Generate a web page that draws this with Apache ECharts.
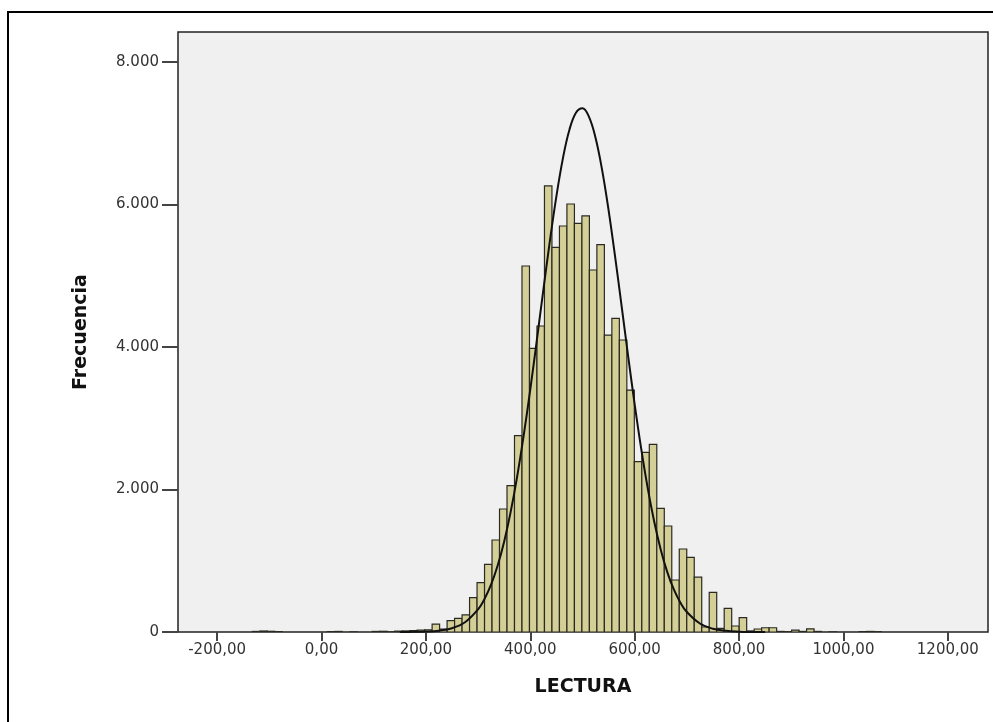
<!DOCTYPE html>
<html>
<head>
<meta charset="utf-8">
<script src="https://cdn.jsdelivr.net/npm/echarts@6/dist/echarts.min.js"></script>
<style>
html,body{margin:0;padding:0;background:#fff;}
#chart{width:993px;height:722px;}
</style>
</head>
<body>
<div id="chart"></div>
<script>
// Histogram bins: first bin left edge and bin width (in LECTURA units)
const binFirst = -189.9;
const binWidth = 14.35;
// Frequencies of consecutive bins starting at binFirst
const counts = [
  0, 0, 0, 0, 8, 14, 10, 6, 0, 0,
  0, 0, 0, 0, 6, 8, 0, 3, 0, 0,
  8, 10, 4, 12, 15, 18, 25, 30, 110, 40,
  159, 192, 239, 482, 692, 950, 1291, 1726, 2054, 2755,
  5137, 3981, 4295, 6260, 5399, 5698, 6007, 5736, 5839, 5081,
  5436, 4168, 4403, 4098, 3396, 2391, 2522, 2634, 1736, 1488,
  730, 1165, 1048, 770, 70, 555, 52, 332, 84, 201,
  15, 42, 60, 60, 8, 5, 25, 8, 45, 8,
  0, 3, 0, 0, 0, 6, 8, 5
];
// Normal curve
const curveX = [150, 175, 200, 225, 250, 275, 300, 312.5, 325, 337.5, 350, 362.5, 375, 387.5, 400, 412.5, 425, 437.5, 450, 462.5, 475, 487.5, 500, 512.5, 525, 537.5, 550, 562.5, 575, 587.5, 600, 612.5, 625, 637.5, 650, 662.5, 675, 687.5, 700, 725, 750, 775, 800, 825, 850];
const curveY = [0, 2, 6, 19, 53, 137, 318, 467, 668, 933, 1271, 1689, 2188, 2766, 3406, 4093, 4799, 5485, 6114, 6648, 7049, 7289, 7352, 7231, 6937, 6490, 5922, 5269, 4573, 3871, 3196, 2573, 2020, 1547, 1155, 841, 597, 414, 280, 119, 45, 16, 5, 1, 0];
// Axis ticks
const xTicks = [-200, 0, 200, 400, 600, 800, 1000, 1200];
const yTicks = [0, 2000, 4000, 6000, 8000];
const xTitle = 'LECTURA';
const yTitle = 'Frecuencia';

const histData = counts.map((c, i) => [binFirst + i * binWidth, binFirst + (i + 1) * binWidth, c]);
const curveData = curveX.map((x, i) => [x, curveY[i]]);

function fmtX(v) { return v.toFixed(2).replace('.', ','); }
function fmtY(v) {
  if (v < 1000) return String(v);
  return Math.floor(v / 1000) + '.' + String(v % 1000).padStart(3, '0');
}

const chart = echarts.init(document.getElementById('chart'), null, {renderer: 'canvas'});
chart.setOption({
  animation: false,
  backgroundColor: '#ffffff',
  graphic: [{
    type: 'rect',
    shape: {x: 8, y: 12, width: 1000, height: 730},
    style: {fill: 'none', stroke: '#000', lineWidth: 2},
    silent: true
  }],
  grid: {
    left: 178, right: 5, top: 32, bottom: 90,
    show: true, backgroundColor: '#f0f0f0', borderColor: '#222', borderWidth: 1.5
  },
  xAxis: {
    type: 'value', min: -275, max: 1277,
    name: xTitle, nameLocation: 'middle', nameGap: 46,
    nameTextStyle: {fontFamily: 'DejaVu Sans', fontWeight: 'bold', fontSize: 19, color: '#111'},
    axisLine: {show: false, onZero: false},
    splitLine: {show: false},
    axisTick: {show: true, customValues: xTicks, length: 9, lineStyle: {color: '#444', width: 2}},
    axisLabel: {customValues: xTicks, formatter: fmtX, margin: 11,
      fontFamily: 'DejaVu Sans', fontSize: 15, color: '#333'}
  },
  yAxis: {
    type: 'value', min: 0, max: 8421,
    name: yTitle, nameLocation: 'middle', nameGap: 87, nameRotate: 90,
    nameTextStyle: {fontFamily: 'DejaVu Sans', fontWeight: 'bold', fontSize: 19, color: '#111'},
    axisLine: {show: false, onZero: false},
    splitLine: {show: false},
    axisTick: {show: true, customValues: yTicks, length: 16, lineStyle: {color: '#444', width: 2}},
    axisLabel: {customValues: yTicks, formatter: fmtY, margin: 19,
      fontFamily: 'DejaVu Sans', fontSize: 15, color: '#333'}
  },
  series: [{
    type: 'custom',
    data: histData,
    encode: {x: [0, 1], y: 2},
    clip: true,
    renderItem: function (params, api) {
      const v = api.value(2);
      if (!v) return null;
      const p0 = api.coord([api.value(0), v]);
      const p1 = api.coord([api.value(1), 0]);
      return {
        type: 'rect',
        shape: {x: p0[0], y: p0[1], width: p1[0] - p0[0], height: p1[1] - p0[1]},
        style: {fill: '#d4cf96', stroke: '#2a2a22', lineWidth: 1.2}
      };
    },
    z: 2
  }, {
    type: 'line',
    data: curveData,
    smooth: 0.4,
    showSymbol: false,
    lineStyle: {color: '#111', width: 2},
    z: 3
  }]
});
</script>
</body>
</html>
